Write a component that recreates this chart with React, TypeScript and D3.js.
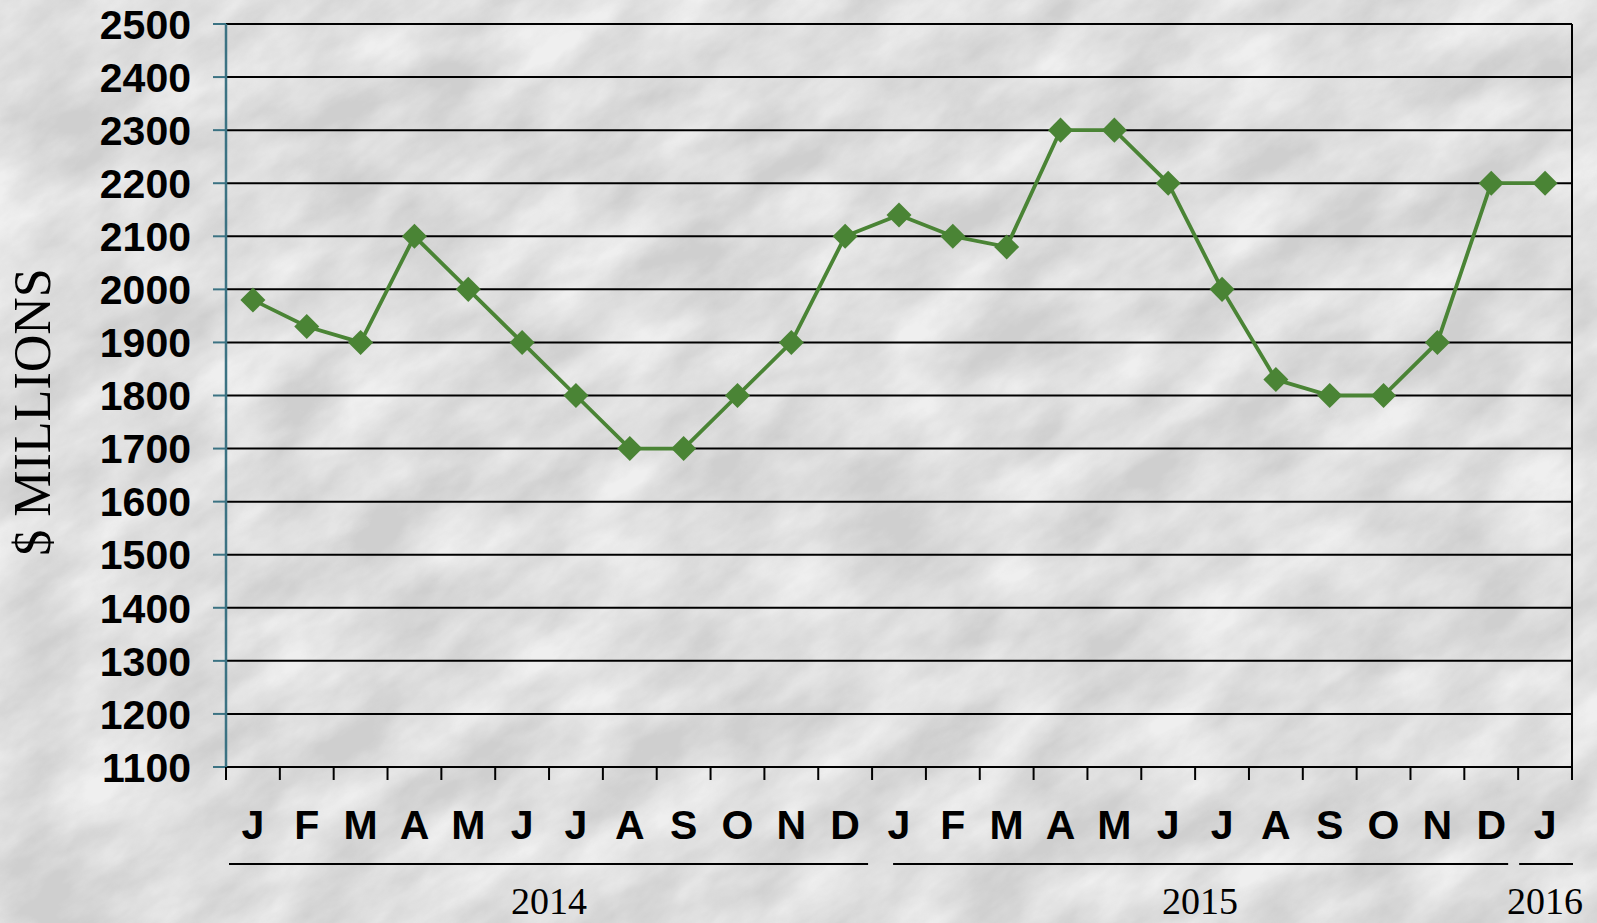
import React from "react";
import * as d3 from "d3";

const months = ["J", "F", "M", "A", "M", "J", "J", "A", "S", "O", "N", "D",
  "J", "F", "M", "A", "M", "J", "J", "A", "S", "O", "N", "D", "J"];
const values = [1980, 1930, 1900, 2100, 2000, 1900, 1800, 1700, 1700, 1800, 1900, 2100,
  2140, 2100, 2080, 2300, 2300, 2200, 2000, 1830, 1800, 1800, 1900, 2200, 2200];
const yTicks = d3.range(1100, 2501, 100);
const years = [
  { label: "2014", from: 0, to: 11 },
  { label: "2015", from: 12, to: 23 },
  { label: "2016", from: 24, to: 24 },
];

const W = 1597;
const H = 923;
const green = "#4a8435";
const teal = "#3b7282";

const App: React.FC = () => {
  const idx = months.map((_, i) => i);
  const x = d3.scaleBand<number>().domain(idx).range([226, 1572]).padding(0);
  const y = d3.scaleLinear().domain([1100, 2500]).range([767, 24]);
  const cx = (i: number) => x(i)! + x.bandwidth() / 2;

  const line = d3.line<number>()
    .x((_, i) => cx(i))
    .y((d) => y(d));

  const diamond = d3.symbol().type(d3.symbolDiamond2).size(400)()!;
  const boundaries = d3.range(0, months.length + 1).map((i) => 226 + i * x.bandwidth());

  // small gaps between year underlines and label nudges, as in the original
  const yearGaps = [[3, -4], [21, -10], [1, 1]];
  const yearShift = [0, 5, 0];

  return (
    <svg width={W} height={H} style={{ position: "fixed", left: 0, top: 0 }}
      fontFamily="'Liberation Sans', Arial, sans-serif">
      <defs>
        <filter id="marble" x="0" y="0" width="100%" height="100%">
          <feTurbulence type="fractalNoise" baseFrequency="0.009 0.02" numOctaves={5} seed={3} result="n" />
          <feColorMatrix in="n" type="matrix"
            values="0 0 0 0 0
                    0 0 0 0 0
                    0 0 0 0 0
                    -1.8 0 0 0 1.45" result="veins" />
          <feFlood floodColor="#8f8f8f" result="c" />
          <feComposite in="c" in2="veins" operator="in" />
        </filter>
      </defs>
      <rect width={W} height={H} fill="#efefef" />
      <g transform={`rotate(-35 ${W / 2} ${H / 2})`} opacity={0.32}>
        <rect x={-400} y={-500} width={W + 800} height={H + 1000} filter="url(#marble)" />
      </g>

      {/* grid lines */}
      {yTicks.map((t) => (
        <line key={t} x1={226} x2={1572} y1={y(t)} y2={y(t)} stroke="#000" strokeWidth={2} />
      ))}
      <line x1={1572} x2={1572} y1={y(2500)} y2={y(1100)} stroke="#000" strokeWidth={2} />

      {/* y axis */}
      <line x1={226} x2={226} y1={y(2500)} y2={y(1100)} stroke={teal} strokeWidth={2.5} />
      {yTicks.map((t) => (
        <g key={t}>
          <line x1={213} x2={226} y1={y(t)} y2={y(t)} stroke={teal} strokeWidth={2} />
          <text x={191} y={y(t)} dy="0.36em" textAnchor="end" fontSize={41} fontWeight="bold">{t}</text>
        </g>
      ))}
      <text transform={`translate(50, 412) rotate(-90)`} textAnchor="middle"
        fontFamily="'Liberation Serif', 'Times New Roman', serif" fontSize={52}>$ MILLIONS</text>

      {/* x axis */}
      {boundaries.map((b, i) => (
        <line key={i} x1={b} x2={b} y1={767} y2={780} stroke="#000" strokeWidth={2} />
      ))}
      {months.map((m, i) => (
        <text key={i} x={cx(i)} y={839} textAnchor="middle" fontSize={41} fontWeight="bold">{m}</text>
      ))}
      {years.map((yr, k) => {
        const x0 = x(yr.from)! + yearGaps[k][0];
        const x1 = x(yr.to)! + x.bandwidth() + yearGaps[k][1];
        const mid = (x(yr.from)! + x(yr.to)! + x.bandwidth()) / 2 + yearShift[k];
        return (
          <g key={yr.label}>
            <line x1={x0} x2={x1} y1={864} y2={864} stroke="#000" strokeWidth={2} />
            <text x={mid} y={914} textAnchor="middle"
              fontFamily="'Liberation Serif', 'Times New Roman', serif" fontSize={38}>{yr.label}</text>
          </g>
        );
      })}

      {/* series */}
      <path d={line(values)!} fill="none" stroke={green} strokeWidth={3.8} />
      {values.map((v, i) => (
        <path key={i} d={diamond} transform={`translate(${cx(i)},${y(v)})`} fill={green} />
      ))}
    </svg>
  );
};

export default App;
